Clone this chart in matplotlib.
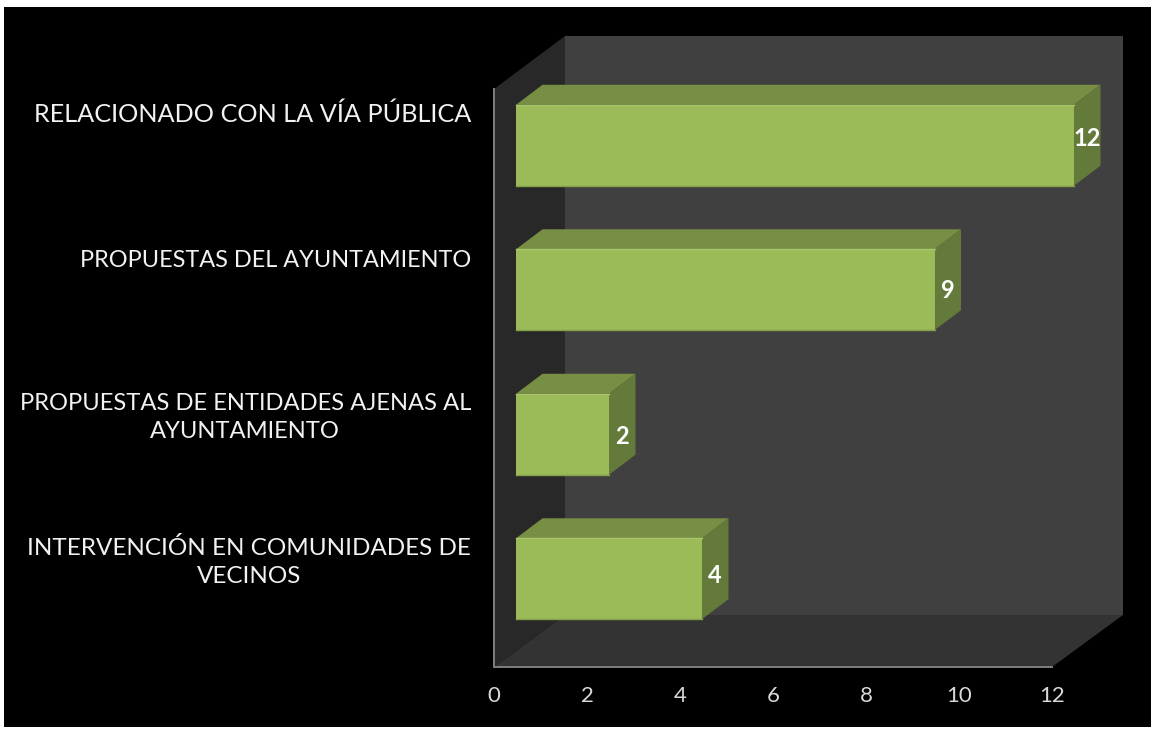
import matplotlib
matplotlib.use("Agg")
import matplotlib.pyplot as plt
from matplotlib.patches import Polygon, Rectangle
from matplotlib.transforms import ScaledTranslation

W, H = 1151, 729
DPI = 100

categories = [
    "RELACIONADO CON LA VÍA PÚBLICA",
    "PROPUESTAS DEL AYUNTAMIENTO",
    "PROPUESTAS DE ENTIDADES AJENAS AL\nAYUNTAMIENTO",
    "INTERVENCIÓN EN COMUNIDADES DE\nVECINOS",
]
values = [12, 9, 2, 4]
x_ticks = [0, 2, 4, 6, 8, 10, 12]

# small nudges of the data labels, pixels upward from bar centre
label_nudge = [7, -1, -2, 3]
# the original font is narrower in some words than Lato, so sizes differ a little
label_sizes = [18.2, 16.9, 17.15, 17.5]
label_drop = [0, 3, 2, 1]

plt.rcParams["font.family"] = ["Lato", "DejaVu Sans"]

fig = plt.figure(figsize=(W / DPI, H / DPI), dpi=DPI, facecolor="white")
fig.patches.append(Rectangle((4 / W, 2 / H), 1147 / W, 720 / H, transform=fig.transFigure,
                             facecolor="black", edgecolor="none", zorder=-1))

# front plane of the 3d box
left, right, top, bottom = 494, 1052, 89, 667
ax = fig.add_axes([left / W, 1 - bottom / H, (right - left) / W, (bottom - top) / H])
ax.set_xlim(0, 12)
ax.set_ylim(4, 0)
ax.patch.set_alpha(0)
for s in ax.spines.values():
    s.set_visible(False)

px_x = 12 / (right - left)
px_y = 4 / (bottom - top)
box_dx, box_dy = 71 * px_x, 53 * px_y
floor_dy = 52 * px_y
xmax, ymax = 12, 4


def add_face(points, color, z, lw=0):
    ax.add_patch(Polygon(points, closed=True, facecolor=color, edgecolor=color,
                         linewidth=lw, zorder=z, clip_on=False))


# walls
add_face([(box_dx, -box_dy), (xmax + box_dx, -box_dy), (xmax + box_dx, ymax - floor_dy), (box_dx, ymax - floor_dy)],
         "#404040", 1)
add_face([(0, 0), (box_dx, -box_dy), (box_dx, ymax - floor_dy), (0, ymax)], "#282828", 2)
add_face([(0, ymax), (box_dx, ymax - floor_dy), (xmax + box_dx, ymax - floor_dy), (xmax, ymax)], "#333333", 2)
ax.plot([0, 0, xmax], [0, ymax, ymax], color="#7f7f7f", lw=1.4, zorder=3, clip_on=False,
        solid_joinstyle="miter")

# bars sit in the middle of the box depth
shift = ScaledTranslation(22 / DPI, 16 / DPI, fig.dpi_scale_trans)
bar_trans = ax.transData + shift
ypos = [i + 0.5 for i in range(len(values))]
bar_h = 0.56
depth_x, depth_y = 26.5 * px_x, 20 * px_y

bars = ax.barh(ypos, values, height=bar_h, color="#9BBB59", zorder=6, transform=bar_trans,
               edgecolor="none", clip_on=False)

for y, v, nudge in zip(ypos, values, label_nudge):
    y0, y1 = y - bar_h / 2, y + bar_h / 2
    ax.add_patch(Polygon([(0, y0), (depth_x, y0 - depth_y), (v + depth_x, y0 - depth_y), (v, y0)],
                         facecolor="#778F45", edgecolor="none", zorder=5, transform=bar_trans, clip_on=False))
    ax.add_patch(Polygon([(v, y0), (v + depth_x, y0 - depth_y), (v + depth_x, y1 - depth_y), (v, y1)],
                         facecolor="#647A3A", edgecolor="none", zorder=5, transform=bar_trans, clip_on=False))
    ax.plot([0, v], [y0, y0], color="#A9C76A", lw=1, zorder=7, transform=bar_trans, clip_on=False)
    ax.plot([0, v], [y1, y1], color="#85A04A", lw=1, zorder=7, transform=bar_trans, clip_on=False)
    ax.annotate(str(v), (v, y), xytext=(13 + 22, 16 + nudge), textcoords="offset pixels",
                ha="center", va="center", color="white", fontsize=17, fontweight="bold",
                zorder=8, annotation_clip=False)

# category labels hang from the top of their line box
for y, name, size, drop in zip(ypos, categories, label_sizes, label_drop):
    ax.annotate(name, (0, y), xytext=(-23, 59 - drop), textcoords="offset pixels",
                ha="right", va="top", ma="center", color="#F2F2F2", fontsize=size,
                linespacing=1.4, annotation_clip=False)

ax.set_xticks(x_ticks)
ax.set_yticks([])
ax.tick_params(axis="x", length=0, pad=14, labelsize=16, labelcolor="#D9D9D9")

fig.savefig("out.png", dpi=DPI, facecolor=fig.get_facecolor())
